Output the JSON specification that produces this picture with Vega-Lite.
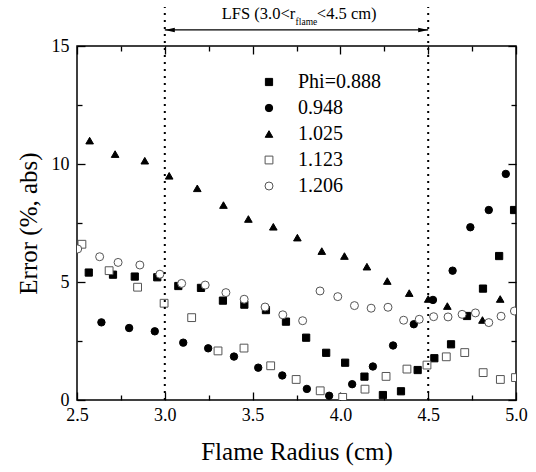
{
  "$schema": "https://vega.github.io/schema/vega-lite/v6.json",
  "width": 439,
  "height": 354,
  "autosize": {"type": "none"},
  "padding": {"left": 77, "top": 46, "right": 20, "bottom": 72},
  "config": {
    "font": "Liberation Serif",
    "view": {"stroke": "black", "strokeWidth": 1.5},
    "axis": {
      "domain": false,
      "grid": false,
      "labelFont": "Liberation Serif",
      "titleFont": "Liberation Serif",
      "labelColor": "black",
      "titleColor": "black",
      "tickColor": "black",
      "tickWidth": 1.3,
      "labelFontSize": 18,
      "titleFontSize": 25,
      "titleFontWeight": "normal"
    },
    "legend": {
      "orient": "none",
      "legendX": 182,
      "legendY": 26,
      "padding": 0,
      "labelFont": "Liberation Serif",
      "labelFontSize": 20,
      "labelColor": "black",
      "labelOffset": 19,
      "rowPadding": 6,
      "symbolStrokeWidth": 1
    }
  },
  "layer": [
    {
      "data": {
        "values": [
          {"s": "Phi=0.888", "r": 2.567, "e": 5.40}, {"s": "Phi=0.888", "r": 2.705, "e": 5.31}, {"s": "Phi=0.888", "r": 2.829, "e": 5.23}, {"s": "Phi=0.888", "r": 2.957, "e": 5.20}, {"s": "Phi=0.888", "r": 3.077, "e": 4.83}, {"s": "Phi=0.888", "r": 3.206, "e": 4.75}, {"s": "Phi=0.888", "r": 3.331, "e": 4.21}, {"s": "Phi=0.888", "r": 3.453, "e": 4.04}, {"s": "Phi=0.888", "r": 3.576, "e": 3.81}, {"s": "Phi=0.888", "r": 3.69, "e": 3.32}, {"s": "Phi=0.888", "r": 3.805, "e": 2.64}, {"s": "Phi=0.888", "r": 3.919, "e": 2.0}, {"s": "Phi=0.888", "r": 4.027, "e": 1.58}, {"s": "Phi=0.888", "r": 4.137, "e": 0.99}, {"s": "Phi=0.888", "r": 4.242, "e": 0.21}, {"s": "Phi=0.888", "r": 4.345, "e": 0.37}, {"s": "Phi=0.888", "r": 4.44, "e": 1.27}, {"s": "Phi=0.888", "r": 4.535, "e": 1.77}, {"s": "Phi=0.888", "r": 4.63, "e": 2.36}, {"s": "Phi=0.888", "r": 4.721, "e": 3.56}, {"s": "Phi=0.888", "r": 4.812, "e": 4.72}, {"s": "Phi=0.888", "r": 4.904, "e": 6.10}, {"s": "Phi=0.888", "r": 4.989, "e": 8.05},
          {"s": "0.948", "r": 2.639, "e": 3.29}, {"s": "0.948", "r": 2.797, "e": 3.05}, {"s": "0.948", "r": 2.943, "e": 2.91}, {"s": "0.948", "r": 3.105, "e": 2.43}, {"s": "0.948", "r": 3.247, "e": 2.19}, {"s": "0.948", "r": 3.394, "e": 1.84}, {"s": "0.948", "r": 3.532, "e": 1.37}, {"s": "0.948", "r": 3.669, "e": 1.04}, {"s": "0.948", "r": 3.809, "e": 0.47}, {"s": "0.948", "r": 3.936, "e": 0.18}, {"s": "0.948", "r": 4.067, "e": 0.67}, {"s": "0.948", "r": 4.185, "e": 1.42}, {"s": "0.948", "r": 4.30, "e": 2.31}, {"s": "0.948", "r": 4.418, "e": 3.21}, {"s": "0.948", "r": 4.527, "e": 4.24}, {"s": "0.948", "r": 4.639, "e": 5.48}, {"s": "0.948", "r": 4.74, "e": 7.32}, {"s": "0.948", "r": 4.845, "e": 8.05}, {"s": "0.948", "r": 4.942, "e": 9.58},
          {"s": "1.025", "r": 2.572, "e": 10.99}, {"s": "1.025", "r": 2.717, "e": 10.42}, {"s": "1.025", "r": 2.886, "e": 10.14}, {"s": "1.025", "r": 3.025, "e": 9.50}, {"s": "1.025", "r": 3.185, "e": 8.97}, {"s": "1.025", "r": 3.334, "e": 8.26}, {"s": "1.025", "r": 3.476, "e": 7.67}, {"s": "1.025", "r": 3.618, "e": 7.34}, {"s": "1.025", "r": 3.755, "e": 6.88}, {"s": "1.025", "r": 3.894, "e": 6.31}, {"s": "1.025", "r": 4.023, "e": 6.10}, {"s": "1.025", "r": 4.151, "e": 5.65}, {"s": "1.025", "r": 4.267, "e": 5.04}, {"s": "1.025", "r": 4.392, "e": 4.53}, {"s": "1.025", "r": 4.50, "e": 4.28}, {"s": "1.025", "r": 4.609, "e": 3.98}, {"s": "1.025", "r": 4.809, "e": 3.39}, {"s": "1.025", "r": 4.91, "e": 4.28},
          {"s": "1.123", "r": 2.528, "e": 6.60}, {"s": "1.123", "r": 2.683, "e": 5.48}, {"s": "1.123", "r": 2.845, "e": 4.78}, {"s": "1.123", "r": 2.996, "e": 4.10}, {"s": "1.123", "r": 3.153, "e": 3.49}, {"s": "1.123", "r": 3.303, "e": 2.08}, {"s": "1.123", "r": 3.451, "e": 2.20}, {"s": "1.123", "r": 3.603, "e": 1.45}, {"s": "1.123", "r": 3.748, "e": 0.87}, {"s": "1.123", "r": 3.885, "e": 0.39}, {"s": "1.123", "r": 4.013, "e": 0.11}, {"s": "1.123", "r": 4.14, "e": 0.46}, {"s": "1.123", "r": 4.26, "e": 1.0}, {"s": "1.123", "r": 4.379, "e": 1.31}, {"s": "1.123", "r": 4.493, "e": 1.48}, {"s": "1.123", "r": 4.603, "e": 1.83}, {"s": "1.123", "r": 4.708, "e": 2.01}, {"s": "1.123", "r": 4.813, "e": 1.16}, {"s": "1.123", "r": 4.911, "e": 0.87}, {"s": "1.123", "r": 4.997, "e": 0.95},
          {"s": "1.206", "r": 2.504, "e": 6.40}, {"s": "1.206", "r": 2.629, "e": 6.07}, {"s": "1.206", "r": 2.734, "e": 5.83}, {"s": "1.206", "r": 2.858, "e": 5.72}, {"s": "1.206", "r": 2.972, "e": 5.33}, {"s": "1.206", "r": 3.096, "e": 4.94}, {"s": "1.206", "r": 3.23, "e": 4.87}, {"s": "1.206", "r": 3.348, "e": 4.55}, {"s": "1.206", "r": 3.452, "e": 4.27}, {"s": "1.206", "r": 3.571, "e": 3.94}, {"s": "1.206", "r": 3.672, "e": 3.61}, {"s": "1.206", "r": 3.785, "e": 3.36}, {"s": "1.206", "r": 3.884, "e": 4.62}, {"s": "1.206", "r": 3.985, "e": 4.38}, {"s": "1.206", "r": 4.08, "e": 4.0}, {"s": "1.206", "r": 4.175, "e": 3.89}, {"s": "1.206", "r": 4.271, "e": 3.93}, {"s": "1.206", "r": 4.36, "e": 3.38}, {"s": "1.206", "r": 4.449, "e": 3.42}, {"s": "1.206", "r": 4.531, "e": 3.53}, {"s": "1.206", "r": 4.613, "e": 3.52}, {"s": "1.206", "r": 4.693, "e": 3.63}, {"s": "1.206", "r": 4.769, "e": 3.69}, {"s": "1.206", "r": 4.845, "e": 3.28}, {"s": "1.206", "r": 4.915, "e": 3.55}, {"s": "1.206", "r": 4.991, "e": 3.77}
        ]
      },
      "mark": {"type": "point", "filled": true, "clip": true, "strokeWidth": 1, "opacity": 1},
      "encoding": {
        "x": {
          "field": "r", "type": "quantitative",
          "scale": {"domain": [2.5, 5.0], "nice": false, "zero": false},
          "axis": {
            "orient": "bottom",
            "values": [2.5, 2.75, 3.0, 3.25, 3.5, 3.75, 4.0, 4.25, 4.5, 4.75, 5.0],
            "labelExpr": "datum.value % 0.5 == 0 ? format(datum.value, '.1f') : ''",
            "tickSize": {"condition": {"test": "datum.value % 0.5 != 0", "value": -5}, "value": -8},
            "labelPadding": 14,
            "labelFlush": false,
            "title": "Flame Radius (cm)",
            "titlePadding": 15
          }
        },
        "y": {
          "field": "e", "type": "quantitative",
          "scale": {"domain": [0, 15], "nice": false, "zero": false},
          "axis": {
            "orient": "left",
            "values": [0, 2.5, 5, 7.5, 10, 12.5, 15],
            "labelExpr": "datum.value % 5 == 0 ? format(datum.value, 'd') : ''",
            "tickSize": {"condition": {"test": "datum.value % 5 != 0", "value": -5}, "value": -8},
            "labelPadding": 16,
            "labelFlush": false,
            "title": "Error (%, abs)",
            "titlePadding": 10
          }
        },
        "shape": {
          "field": "s", "type": "nominal", "title": null,
          "scale": {"domain": ["Phi=0.888", "0.948", "1.025", "1.123", "1.206"], "range": ["square", "circle", "triangle-up", "square", "circle"]}
        },
        "fill": {
          "field": "s", "type": "nominal", "title": null,
          "scale": {"domain": ["Phi=0.888", "0.948", "1.025", "1.123", "1.206"], "range": ["black", "black", "black", "white", "white"]}
        },
        "stroke": {
          "field": "s", "type": "nominal", "title": null,
          "scale": {"domain": ["Phi=0.888", "0.948", "1.025", "1.123", "1.206"], "range": ["black", "black", "black", "#555555", "#555555"]}
        },
        "size": {
          "field": "s", "type": "nominal", "title": null,
          "scale": {"domain": ["Phi=0.888", "0.948", "1.025", "1.123", "1.206"], "range": [52, 64, 95, 52, 64]}
        }
      }
    },
    {
      "data": {"values": [{"r": 3.0}, {"r": 4.5}]},
      "mark": {"type": "rule", "strokeDash": [2, 5], "strokeWidth": 2, "clip": false, "color": "black"},
      "encoding": {
        "x": {
          "field": "r", "type": "quantitative",
          "scale": {"domain": [2.5, 5.0], "nice": false, "zero": false},
          "axis": {
            "orient": "top",
            "values": [2.5, 2.75, 3.0, 3.25, 3.5, 3.75, 4.0, 4.25, 4.5, 4.75, 5.0],
            "labels": false,
            "tickSize": {"condition": {"test": "datum.value % 0.5 != 0", "value": -5}, "value": -8},
            "title": null
          }
        },
        "y": {
          "datum": 0, "type": "quantitative",
          "scale": {"domain": [0, 15], "nice": false, "zero": false},
          "axis": {
            "orient": "right",
            "values": [0, 2.5, 5, 7.5, 10, 12.5, 15],
            "labels": false,
            "tickSize": {"condition": {"test": "datum.value % 5 != 0", "value": -5}, "value": -8},
            "title": null
          }
        },
        "y2": {"datum": 16.65}
      }
    },
    {
      "data": {"values": [{"a": 3.0, "b": 4.5, "y": 15.68}]},
      "mark": {"type": "rule", "strokeWidth": 1.3, "clip": false, "color": "black"},
      "encoding": {
        "x": {"field": "a", "type": "quantitative", "scale": {"domain": [2.5, 5.0], "nice": false, "zero": false}, "axis": null},
        "x2": {"field": "b"},
        "y": {"field": "y", "type": "quantitative", "scale": {"domain": [0, 15], "nice": false, "zero": false}, "axis": null}
      }
    },
    {
      "data": {"values": [{"a": 3.0, "y": 15.68}]},
      "mark": {"type": "point", "shape": "M0,0L2,-0.45L2,0.45Z", "size": 100, "filled": true, "color": "black", "opacity": 1, "clip": false},
      "encoding": {
        "x": {"field": "a", "type": "quantitative", "scale": {"domain": [2.5, 5.0], "nice": false, "zero": false}, "axis": null},
        "y": {"field": "y", "type": "quantitative", "scale": {"domain": [0, 15], "nice": false, "zero": false}, "axis": null}
      }
    },
    {
      "data": {"values": [{"a": 4.5, "y": 15.68}]},
      "mark": {"type": "point", "shape": "M0,0L-2,-0.45L-2,0.45Z", "size": 100, "filled": true, "color": "black", "opacity": 1, "clip": false},
      "encoding": {
        "x": {"field": "a", "type": "quantitative", "scale": {"domain": [2.5, 5.0], "nice": false, "zero": false}, "axis": null},
        "y": {"field": "y", "type": "quantitative", "scale": {"domain": [0, 15], "nice": false, "zero": false}, "axis": null}
      }
    },
    {
      "data": {"values": [{"t": "LFS (3.0<r", "a": 3.743, "y": 16.14}]},
      "mark": {"type": "text", "align": "right", "baseline": "alphabetic", "fontSize": 16.5, "font": "Liberation Serif", "color": "black", "clip": false},
      "encoding": {
        "x": {"field": "a", "type": "quantitative", "scale": {"domain": [2.5, 5.0], "nice": false, "zero": false}, "axis": null},
        "y": {"field": "y", "type": "quantitative", "scale": {"domain": [0, 15], "nice": false, "zero": false}, "axis": null},
        "text": {"field": "t"}
      }
    },
    {
      "data": {"values": [{"t": "flame", "a": 3.745, "y": 15.89}]},
      "mark": {"type": "text", "align": "left", "baseline": "alphabetic", "fontSize": 9.5, "font": "Liberation Serif", "color": "black", "clip": false},
      "encoding": {
        "x": {"field": "a", "type": "quantitative", "scale": {"domain": [2.5, 5.0], "nice": false, "zero": false}, "axis": null},
        "y": {"field": "y", "type": "quantitative", "scale": {"domain": [0, 15], "nice": false, "zero": false}, "axis": null},
        "text": {"field": "t"}
      }
    },
    {
      "data": {"values": [{"t": "<4.5 cm)", "a": 3.866, "y": 16.14}]},
      "mark": {"type": "text", "align": "left", "baseline": "alphabetic", "fontSize": 16.5, "font": "Liberation Serif", "color": "black", "clip": false},
      "encoding": {
        "x": {"field": "a", "type": "quantitative", "scale": {"domain": [2.5, 5.0], "nice": false, "zero": false}, "axis": null},
        "y": {"field": "y", "type": "quantitative", "scale": {"domain": [0, 15], "nice": false, "zero": false}, "axis": null},
        "text": {"field": "t"}
      }
    }
  ],
  "resolve": {"axis": {"x": "independent", "y": "independent"}}
}
